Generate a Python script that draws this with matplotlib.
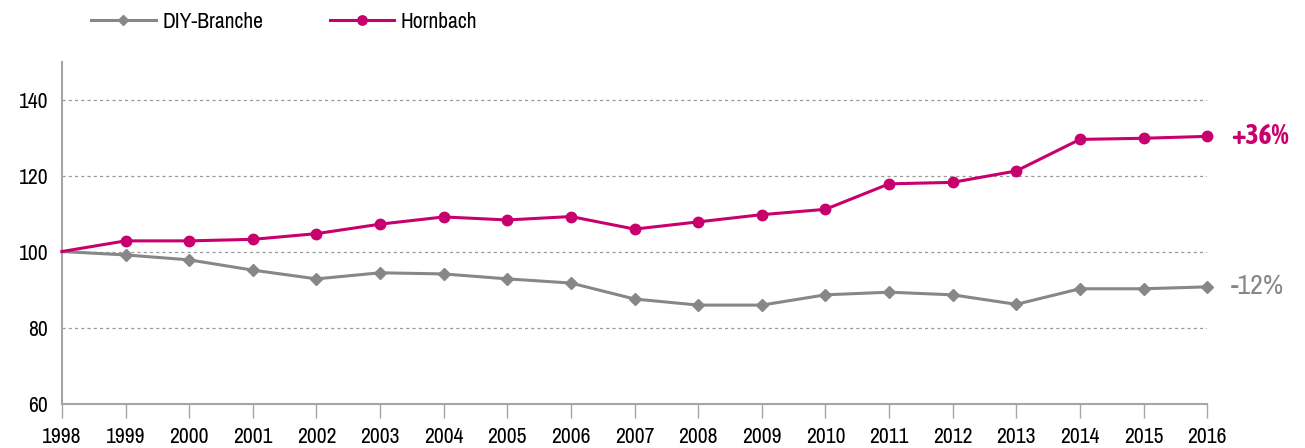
import matplotlib
matplotlib.use("Agg")
import matplotlib.pyplot as plt
from matplotlib import font_manager

years = list(range(1998, 2017))
diy = [100, 99.1, 97.8, 95.1, 92.8, 94.4, 94.1, 92.8, 91.7, 87.5,
       85.9, 85.9, 88.6, 89.3, 88.6, 86.1, 90.2, 90.2, 90.7]
hornbach = [100, 102.8, 102.8, 103.2, 104.7, 107.2, 109.1, 108.3, 109.2, 105.9,
            107.8, 109.7, 111.1, 117.8, 118.2, 121.2, 129.5, 129.8, 130.3]
end_labels = ["-12%", "+36%"]
yticks = [60, 80, 100, 120, 140]

# pick a condensed font if one is around, and one with a bold face for the +36%
fonts = font_manager.fontManager.ttflist
cond = sorted({f.name for f in fonts if "Condensed" in f.name or "Narrow" in f.name})
font = cond[0] if cond else "DejaVu Sans"
bold_font = font
for n in cond:
    w = [f.weight for f in fonts if f.name == n]
    if any((isinstance(x, int) and x >= 600) or x in ("bold", "semibold", "heavy") for x in w):
        bold_font = n
        break
stretch = "normal" if cond else "condensed"
plt.rcParams["font.family"] = [font, "DejaVu Sans"]
plt.rcParams["font.stretch"] = stretch

grey = "#878787"
pink = "#C8006E"
axis_col = "#a5a5a5"

fig = plt.figure(figsize=(13.05, 4.48), dpi=100)
ax = fig.add_axes([0.0475, 0.0993, 0.8775, 0.7634])

ax.plot(years, diy, color=grey, lw=2.2, marker="D", ms=6, markevery=range(1, len(years)),
        clip_on=False, zorder=3, label="DIY-Branche")
ax.plot(years, hornbach, color=pink, lw=2.2, marker="o", ms=7.5, markevery=range(1, len(years)),
        clip_on=False, zorder=4, label="Hornbach")

ax.set_xlim(1998, 2016)
ax.set_ylim(60, 150)
ax.set_xticks(years)
ax.set_yticks(yticks)
ax.tick_params(axis="x", length=10, width=1, color=axis_col, pad=7, labelsize=15.5)
ax.tick_params(axis="y", length=0, pad=10, labelsize=15.5)
for side in ["top", "right"]:
    ax.spines[side].set_visible(False)
for side in ["left", "bottom"]:
    ax.spines[side].set_color(axis_col)
    ax.spines[side].set_linewidth(1.5)

for v in yticks[1:]:
    ax.axhline(v, color="#9a9a9a", lw=0.9, ls=(0, (2.5, 2.5)), zorder=1)

ax.annotate(end_labels[0], (years[-1], diy[-1]), xytext=(17, 0), textcoords="offset points",
            va="center", ha="left", color=grey, fontsize=20, annotation_clip=False)
ax.annotate(end_labels[1], (years[-1], hornbach[-1]), xytext=(17, 0), textcoords="offset points",
            va="center", ha="left", color=pink, fontsize=20, fontweight="bold",
            family=[bold_font, "DejaVu Sans"], annotation_clip=False)

fig.legend(loc="center left", bbox_to_anchor=(0.055, 0.951), ncol=2, frameon=False,
           fontsize=15.5, handlelength=3.0, handletextpad=0.3, columnspacing=3.1,
           markerscale=0.9)

fig.savefig("out.png", dpi=100)
